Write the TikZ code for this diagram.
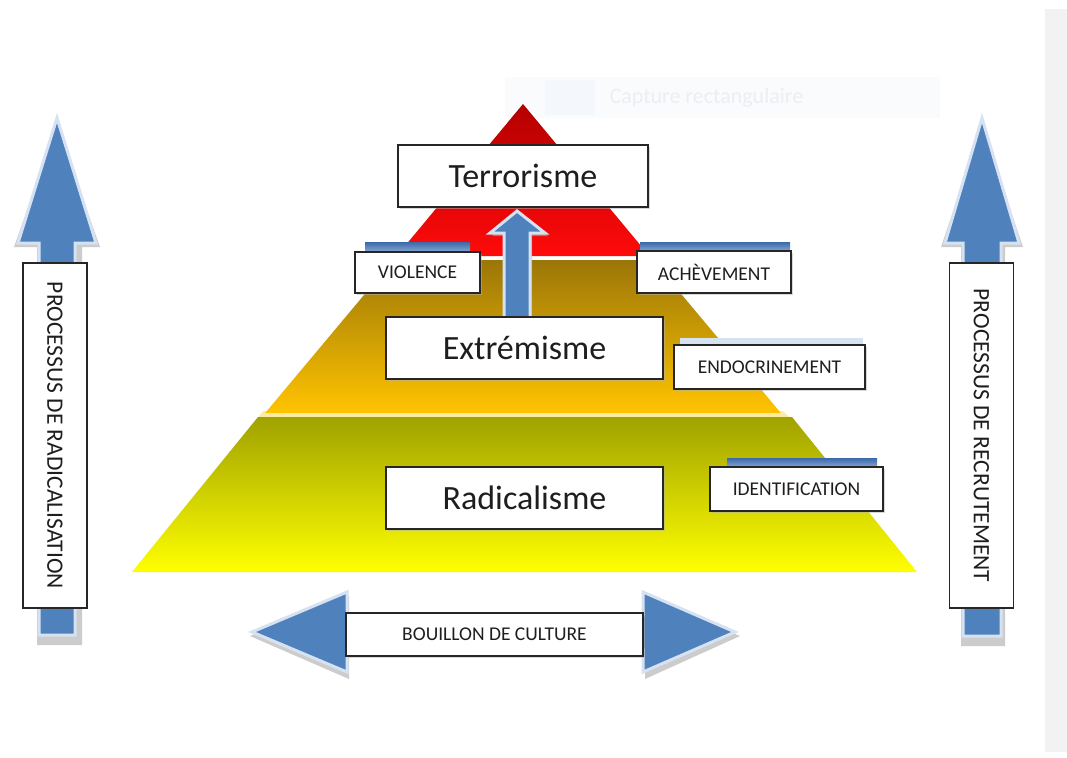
\documentclass[tikz,border=0pt]{standalone}
\usepackage{fontspec}
\setmainfont{Carlito}
\usetikzlibrary{shadows}
\definecolor{abl}{RGB}{79,129,189}
\definecolor{aglow}{RGB}{214,226,242}
\definecolor{ashadow}{RGB}{170,170,170}
\definecolor{txt}{RGB}{30,30,30}
\definecolor{redtop}{RGB}{180,0,0}
\definecolor{redbot}{RGB}{255,10,10}
\definecolor{midtop}{RGB}{155,118,8}
\definecolor{midmid}{RGB}{238,170,0}
\definecolor{midbot}{RGB}{255,196,0}
\definecolor{lowtop}{RGB}{160,162,0}
\definecolor{lowmid}{RGB}{228,228,0}
\definecolor{lowbot}{RGB}{255,255,0}
\definecolor{gapcol}{RGB}{252,236,160}
\definecolor{bandgray}{RGB}{242,242,242}
\definecolor{tabtop}{RGB}{60,105,170}
\definecolor{tabbot}{RGB}{140,172,214}
\definecolor{tablight}{RGB}{215,226,240}
\definecolor{wmbox}{RGB}{250,251,253}
\definecolor{wmsq}{RGB}{244,247,252}
\definecolor{wmtxt}{RGB}{236,238,243}
\tikzset{
  bigbox/.style={draw=black!85, line width=1.3pt, fill=white, text=txt,
    minimum width=#1, minimum height=62pt, inner sep=0pt,
    font=\fontsize{34}{40}\selectfont,
    drop shadow={shadow xshift=2pt, shadow yshift=-2pt, fill=gray!60, opacity=0.5}},
  smallbox/.style={draw=black!85, line width=1.3pt, fill=white, text=txt,
    inner sep=0pt, font=\fontsize{19.5}{22}\selectfont,
    drop shadow={shadow xshift=2pt, shadow yshift=-2pt, fill=gray!60, opacity=0.5}},
  sidebox/.style={draw=black!85, line width=1.3pt, fill=white, text=txt,
    inner sep=0pt, rotate=-90, minimum width=345pt, minimum height=64pt,
    font=\fontsize{23.5}{26}\selectfont},
  bluearrow/.style={fill=abl, draw=aglow, line width=3pt, line join=miter},
  arrowshadow/.style={fill=ashadow, opacity=0.6},
  tab/.style={top color=tabtop, bottom color=tabbot, draw=none},
}
\begin{document}
\begin{tikzpicture}[x=1pt,y=-1pt]
\useasboundingbox (0,0) rectangle (1067,757);
\fill[white] (0,0) rectangle (1067,757);
% right gray band
\fill[bandgray] (1045,9) rectangle (1067,752);
% faint watermark
\fill[wmbox] (505,77) rectangle (940,118);
\fill[wmsq] (545,80) rectangle (595,115);
\node[text=wmtxt, font=\fontsize{22}{24}\selectfont, anchor=west] (wm) at (606,98) {Capture rectangulaire};

% pyramid layers
\fill[gapcol] (263.5,411) -- (782.5,411) -- (791,418.5) -- (257,418.5) -- cycle;
\shade[top color=lowtop, middle color=lowmid, bottom color=lowbot]
  (258,417) -- (792,417) -- (917,572) -- (132,572) -- cycle;
\shade[top color=midtop, middle color=midmid, bottom color=midbot]
  (393.3,260) -- (652.7,260) -- (780.8,413) -- (265.2,413) -- cycle;
\shade[top color=redtop, bottom color=redbot]
  (523,104) -- (649.4,256) -- (396.6,256) -- cycle;

% central up arrow
\fill[arrowshadow] (506,320) -- (506,236) -- (492,236) -- (519,214) -- (548,236) -- (532,236) -- (532,320) -- cycle;
\path[bluearrow] (504,318) -- (504,233) -- (490,233) -- (517,211) -- (545,233) -- (530,233) -- (530,318) -- cycle;

% left side arrow
\fill[arrowshadow] (37,645) -- (37,247) -- (14,247) -- (57,126) -- (100,247) -- (82,247) -- (82,645) -- cycle;
\path[bluearrow] (39,635) -- (39,243) -- (18,243) -- (57,118) -- (96,243) -- (75,243) -- (75,635) -- cycle;
% right side arrow
\fill[arrowshadow] (961,646) -- (961,247) -- (941,247) -- (982,126) -- (1023,247) -- (1005,247) -- (1005,646) -- cycle;
\path[bluearrow] (963,636) -- (963,243) -- (945,243) -- (982,118) -- (1019,243) -- (1001,243) -- (1001,636) -- cycle;

% bottom double arrow
\fill[arrowshadow] (250,636) -- (349,596) -- (349,619) -- (645,619) -- (645,596) -- (740,636) -- (645,679) -- (645,654) -- (349,654) -- (349,679) -- cycle;
\path[bluearrow] (252,632) -- (347,592) -- (347,615) -- (643,615) -- (643,592) -- (735,632) -- (643,672) -- (643,650) -- (347,650) -- (347,672) -- cycle;

% tabs above small boxes
\shade[tab] (365,242) rectangle (470,253);
\shade[tab] (640,242) rectangle (790,252);
\fill[tablight] (680,338) rectangle (863,346);
\shade[tab] (727,458) rectangle (877,468);

% main labels
\node[bigbox=250pt] (terr) at (523,176) {Terrorisme};
\node[bigbox=277pt] (extr) at (524.5,348) {Extrémisme};
\node[bigbox=277pt] (radi) at (524.5,498) {Radicalisme};

% small labels
\node[smallbox, minimum width=125pt, minimum height=41pt] (viol) at (417.5,272.5) {VIOLENCE};
\node[smallbox, minimum width=154pt, minimum height=42pt] (ache) at (714,272) {ACHÈVEMENT};
\node[smallbox, minimum width=191pt, minimum height=44pt] (endo) at (769.5,367) {ENDOCRINEMENT};
\node[smallbox, minimum width=173pt, minimum height=44pt] (iden) at (796.5,489) {IDENTIFICATION};
\node[smallbox, minimum width=297pt, minimum height=43pt] (boui) at (494.5,634.5) {BOUILLON DE CULTURE};

% side labels
\node[sidebox] (radp) at (55,435.5) {PROCESSUS DE RADICALISATION};
\node[sidebox] (recp) at (981.5,435.5) {PROCESSUS DE RECRUTEMENT};
\end{tikzpicture}
\end{document}
